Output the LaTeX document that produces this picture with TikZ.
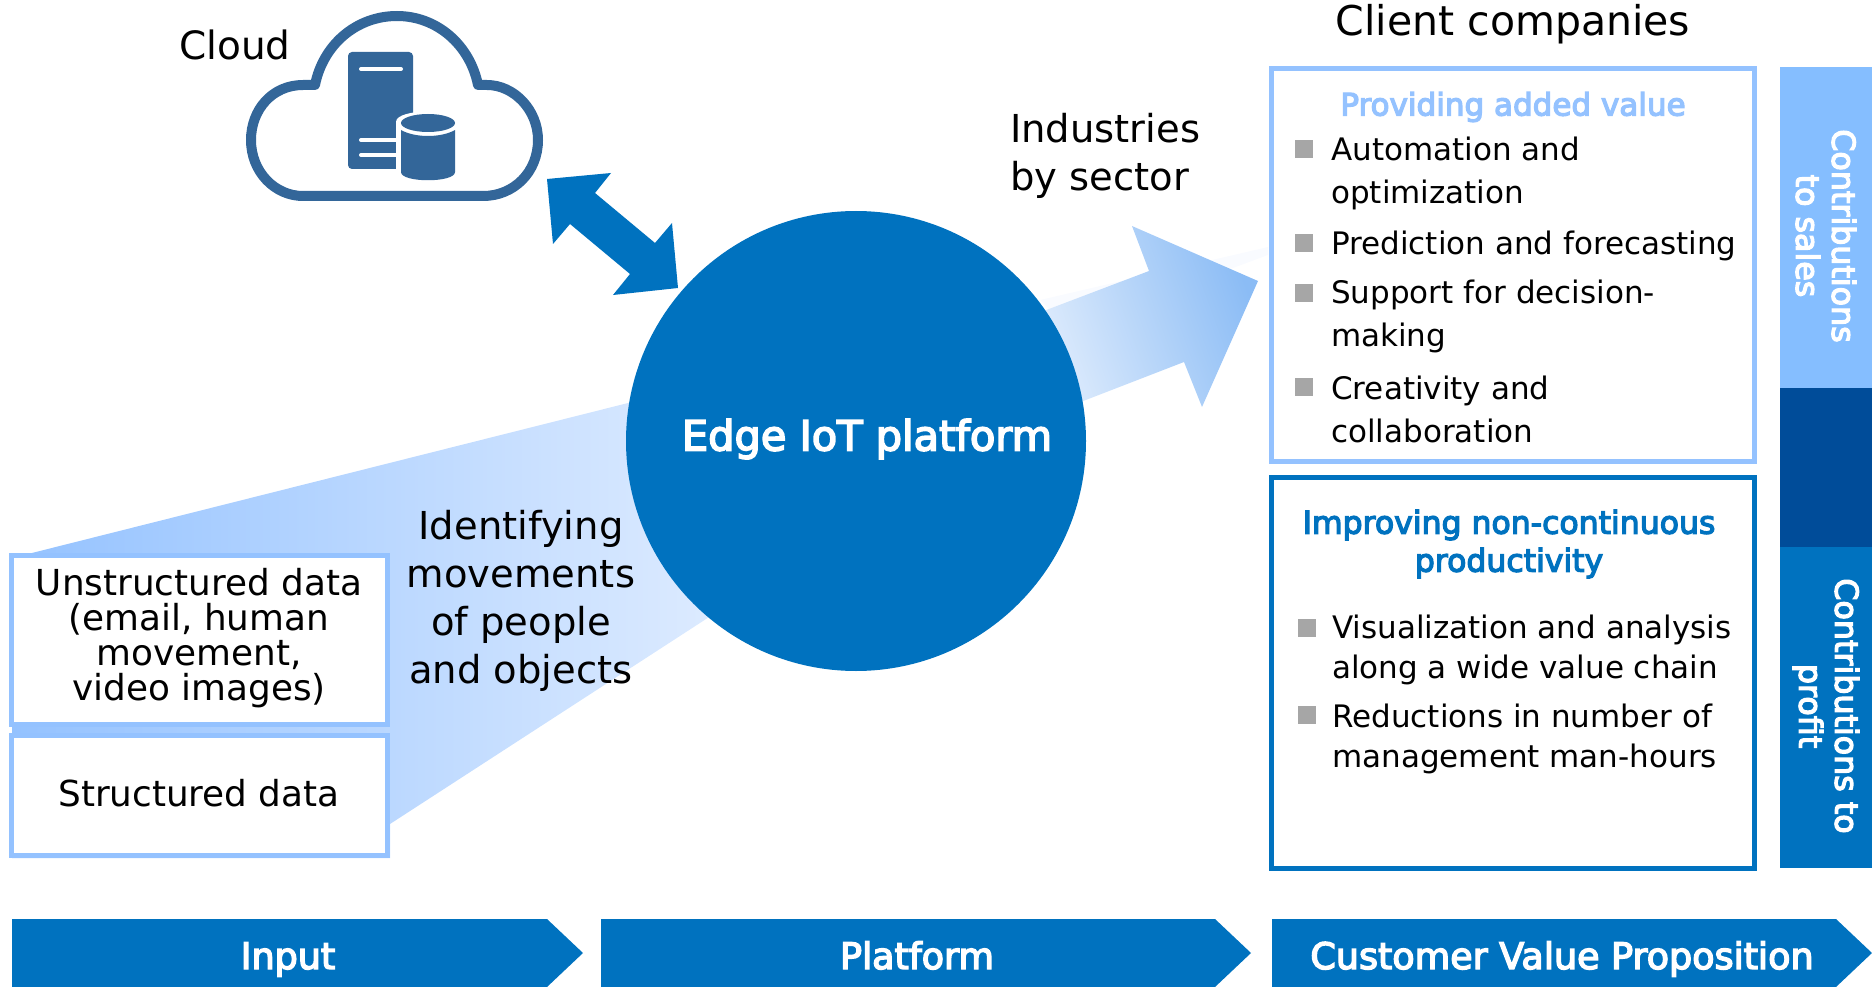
\documentclass[tikz,border=0pt]{standalone}
\usepackage{fontspec}
\setmainfont{DejaVu Sans}
\newfontfamily\hdfont[FakeBold=4]{DejaVu Sans}
\usetikzlibrary{shadings}
\definecolor{lightb}{HTML}{94C2FF}
\definecolor{barlight}{HTML}{85BEFF}
\definecolor{mainb}{HTML}{0072BF}
\definecolor{darkb}{HTML}{004C99}
\definecolor{cloudb}{HTML}{336699}
\definecolor{bulletg}{HTML}{A6A6A6}
\definecolor{arrowend}{HTML}{8BBCF5}
\definecolor{arrowstart}{HTML}{E4EFFD}
\definecolor{wedgeend}{HTML}{DDEBFF}
\newcommand{\fs}[2]{\fontsize{#1}{#2}\selectfont}
\tikzset{
  x=1pt,y=-1pt,
  databox/.style={draw=lightb,line width=5pt,fill=white},
  valbox/.style={line width=5pt,fill=white},
  lab/.style={inner sep=0pt,align=center,text=black},
  item/.style={inner sep=0pt,align=left,anchor=west,text=black,font=\fs{31}{43}},
  item2/.style={item,font=\fs{31}{40.5}},
  bull/.style={fill=bulletg,inner sep=0pt,minimum size=18pt},
  phase/.style={fill=mainb},
  phasetxt/.style={inner sep=0pt,anchor=base,text=white,font=\hdfont\fs{36.5}{40}},
  sidetxt/.style={inner sep=0pt,align=center,text=white,rotate=-90,font=\hdfont\fs{31.7}{36}},
}
\begin{document}
\begin{tikzpicture}
\useasboundingbox (0,0) rectangle (1872,987);
% input wedge
\shade[left color=lightb,right color=wedgeend]
  (12,558) -- (640,400) -- (720,610) -- (390,824) -- (390,858) -- (12,858) -- cycle;
% faint sliver and output arrow
\fill[lightb!6!white] (1040,300) -- (1268,247) -- (1268,255) -- (1233,268) -- (1050,310) -- cycle;
\shade[left color=arrowstart,right color=arrowend,shading angle=110]
  (1020,320) -- (1149,271) -- (1132,226) -- (1258,281) -- (1202,407) -- (1184,362) -- (1060,410) -- cycle;
% circle
\node[circle,fill=mainb,minimum size=460pt,inner sep=0pt] (hub) at (856,441) {};
\node[inner sep=0pt,text=white,font=\hdfont\fs{41.5}{44}] (hubtxt) at (867,439) {Edge IoT platform};
% double arrow
\fill[mainb] (547,179) -- (611,173) -- (595,193) -- (655,243) -- (672,223) -- (678,288) -- (613,295) -- (630,274) -- (570,224) -- (553,244) -- cycle;
% cloud
\draw[cloudb,line width=10pt,line join=round,fill=white]
  (303,85) .. controls (272,85) and (251,110) .. (251,140)
  .. controls (251,172) and (275,196) .. (303,196)
  -- (483,196) .. controls (514,196) and (538,172) .. (538,140)
  .. controls (538,110) and (514,85) .. (487,85) -- (478,85)
  .. controls (470,45) and (437,16) .. (397,16)
  .. controls (356,16) and (323,45) .. (315,85) -- cycle;
\fill[cloudb,rounded corners=4pt] (348,52) rectangle (413,169);
\draw[white,line width=4pt,line cap=round] (361,69) -- (401,69);
\draw[white,line width=4pt,line cap=round] (361,140) -- (400,140);
\draw[white,line width=4pt,line cap=round] (361,155) -- (400,155);
\fill[white] (396,122) .. controls (396,108) and (460,108) .. (460,122) -- (460,180) .. controls (460,190) and (396,190) .. (396,180) -- cycle;
\fill[cloudb] (401,130) .. controls (415,138) and (441,138) .. (455,130) -- (455,172) .. controls (455,183) and (401,183) .. (401,172) -- cycle;
\fill[cloudb] (428,123) ellipse [x radius=27,y radius=9];
\node[lab,font=\fs{39}{44}] (cloudlab) at (235,45) {Cloud};
% data boxes
\node[databox,minimum width=376pt,minimum height=169pt,inner sep=0pt] (unst) at (199.5,640) {};
\node[databox,minimum width=376pt,minimum height=120pt,inner sep=0pt] (stru) at (199.5,795.5) {};
\node[lab,font=\fs{35.8}{35}] (unsttxt) at (199,638) {Unstructured data\\(email, human\\movement,\\video images)};
\node[lab,font=\fs{35.8}{35}] (strutxt) at (199,793) {Structured data};
\node[lab,font=\fs{38.5}{48}] (ident) at (521,601) {Identifying\\movements\\of people\\and objects};
\node[inner sep=0pt,align=left,anchor=west,font=\fs{38.5}{48}] (ind) at (1010,156) {Industries\\by sector};
\node[lab,font=\fs{41}{44}] (client) at (1513,24) {Client companies};
% value boxes
\node[valbox,draw=lightb,minimum width=483pt,minimum height=393pt,inner sep=0pt] (val1) at (1513,265) {};
\node[valbox,draw=mainb,minimum width=483pt,minimum height=391pt,inner sep=0pt] (val2) at (1513,673) {};
\node[inner sep=0pt,text=lightb,font=\hdfont\fs{31}{38}] (h1) at (1513,107) {Providing added value};
\node[inner sep=0pt,align=center,text=mainb,font=\hdfont\fs{31.5}{38}] (h2) at (1509,544) {Improving non-continuous\\productivity};
\node[bull] (b1) at (1304,149) {};
\node[bull] (b2) at (1304,243) {};
\node[bull] (b3) at (1304,293) {};
\node[bull] (b4) at (1304,387) {};
\node[item] (i1) at (1331,173) {Automation and\\optimization};
\node[item] (i2) at (1331,246) {Prediction and forecasting};
\node[item] (i3) at (1331,316) {Support for decision-\\making};
\node[item] (i4) at (1331,409) {Creativity and\\collaboration};
\node[bull] (b5) at (1307,628) {};
\node[bull] (b6) at (1307,715) {};
\node[item2] (i5) at (1332,650) {Visualization and analysis\\along a wide value chain};
\node[item2] (i6) at (1332,739) {Reductions in number of\\management man-hours};
% side bar
\node[fill=barlight,minimum width=92pt,minimum height=321pt,inner sep=0pt] (s1) at (1826,227.5) {};
\node[fill=darkb,minimum width=92pt,minimum height=159pt,inner sep=0pt] (s2) at (1826,467.5) {};
\node[fill=mainb,minimum width=92pt,minimum height=321pt,inner sep=0pt] (s3) at (1826,707.5) {};
\node[sidetxt] (s1t) at (1826,236) {Contributions\\to sales};
\node[sidetxt] (s3t) at (1826,706) {Contributions to\\profit};
% phases
\fill[phase] (12,919) -- (547,919) -- (583,953) -- (547,987) -- (12,987) -- cycle;
\fill[phase] (601,919) -- (1215,919) -- (1251,953) -- (1215,987) -- (601,987) -- cycle;
\fill[phase] (1272,919) -- (1836,919) -- (1872,953) -- (1836,987) -- (1272,987) -- cycle;
\node[phasetxt] (p1) at (288,969) {Input};
\node[phasetxt] (p2) at (917,969) {Platform};
\node[phasetxt] (p3) at (1562,969) {Customer Value Proposition};
\end{tikzpicture}
\end{document}
